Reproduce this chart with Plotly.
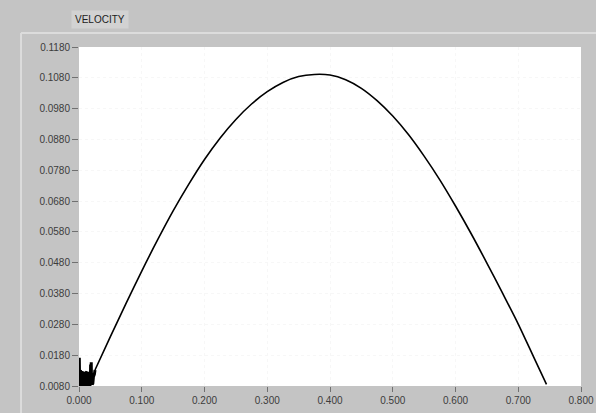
import plotly.graph_objects as go

# ---- data ----
pos = [0.0255, 0.050, 0.075, 0.100, 0.125, 0.150, 0.175, 0.200, 0.225, 0.250,
       0.275, 0.300, 0.325, 0.350, 0.375, 0.400, 0.425, 0.450, 0.475, 0.500,
       0.525, 0.550, 0.575, 0.600, 0.625, 0.650, 0.675, 0.700, 0.725, 0.745]
vel = [0.0132, 0.0240, 0.0348, 0.0453, 0.0553, 0.0648, 0.0735, 0.0815, 0.0885, 0.0945,
       0.0995, 0.1035, 0.1065, 0.1084, 0.1091, 0.1089, 0.1074, 0.1046, 0.1006, 0.0956,
       0.0896, 0.0826, 0.0749, 0.0664, 0.0574, 0.0479, 0.0381, 0.0281, 0.0172, 0.0085]

# noisy start-up region (dense jitter near the origin)
noise_pos = [0.0000, 0.0005, 0.0010, 0.0015, 0.0020, 0.0025, 0.0030, 0.0035,
             0.0040, 0.0045, 0.0050, 0.0055, 0.0060, 0.0065, 0.0070, 0.0075,
             0.0080, 0.0085, 0.0090, 0.0095, 0.0100, 0.0105, 0.0110, 0.0115,
             0.0120, 0.0125, 0.0130, 0.0135, 0.0140, 0.0145, 0.0150, 0.0155,
             0.0160, 0.0165, 0.0170, 0.0175, 0.0180, 0.0185, 0.0190, 0.0195,
             0.0200, 0.0205, 0.0210, 0.0215, 0.0220, 0.0230, 0.0245, 0.0255]
noise_vel = [0.0080, 0.0172, 0.0082, 0.0124, 0.0081, 0.0125, 0.0080, 0.0126,
             0.0081, 0.0125, 0.0080, 0.0124, 0.0082, 0.0126, 0.0080, 0.0125,
             0.0081, 0.0124, 0.0080, 0.0126, 0.0082, 0.0125, 0.0080, 0.0124,
             0.0081, 0.0126, 0.0080, 0.0125, 0.0082, 0.0124, 0.0080, 0.0126,
             0.0081, 0.0125, 0.0080, 0.0124, 0.0082, 0.0150, 0.0083, 0.0157,
             0.0084, 0.0122, 0.0085, 0.0118, 0.0088, 0.0110, 0.0118, 0.0132]

x_ticks = [0.0, 0.1, 0.2, 0.3, 0.4, 0.5, 0.6, 0.7, 0.8]
x_labels = ["0.000", "0.100", "0.200", "0.300", "0.400", "0.500", "0.600", "0.700", "0.800"]
y_ticks = [0.008, 0.018, 0.028, 0.038, 0.048, 0.058, 0.068, 0.078, 0.088, 0.098, 0.108, 0.118]
y_labels = ["0.0080", "0.0180", "0.0280", "0.0380", "0.0480", "0.0580",
            "0.0680", "0.0780", "0.0880", "0.0980", "0.1080", "0.1180"]

title_text = "VELOCITY"

GRAY = "#c4c4c4"
TXT = "#3c3c3c"
FONT = "Liberation Sans Narrow, Liberation Sans, Arial, sans-serif"

fig = go.Figure()
fig.add_trace(go.Scatter(x=noise_pos, y=noise_vel, mode="lines",
                         line=dict(color="black", width=3), hoverinfo="skip",
                         showlegend=False))
fig.add_trace(go.Scatter(x=pos, y=vel, mode="lines",
                         line=dict(color="black", width=1.6, shape="spline", smoothing=0.8),
                         showlegend=False))

fig.update_layout(
    width=596, height=413, autosize=False,
    margin=dict(l=79, r=15, t=47, b=27, autoexpand=False),
    paper_bgcolor=GRAY, plot_bgcolor="white",
    font=dict(family=FONT, size=10, color=TXT),
    xaxis=dict(range=[0, 0.8], tickvals=x_ticks, ticktext=x_labels, automargin=False,
               ticks="outside", ticklen=5, tickcolor="#707070", tickwidth=1,
               showgrid=True, gridcolor="#f7f7f7", griddash="dot", zeroline=False,
               showline=False, tickfont=dict(size=10, color=TXT, family=FONT)),
    yaxis=dict(range=[0.008, 0.118], tickvals=y_ticks, ticktext=y_labels, automargin=False,
               ticks="outside", ticklen=6, tickcolor="#707070", tickwidth=1,
               showgrid=True, gridcolor="#f7f7f7", griddash="dot", zeroline=False,
               showline=False, tickfont=dict(size=10, color=TXT, family=FONT)),
    shapes=[
        dict(type="line", xref="paper", yref="paper", x0=-0.1155, x1=1.1, y0=1.0413, y1=1.0413,
             line=dict(color="#dcdcdc", width=2)),
        dict(type="line", xref="paper", yref="paper", x0=-0.1155, x1=-0.1155, y0=1.0413, y1=-0.1,
             line=dict(color="#dcdcdc", width=2)),
    ],
    annotations=[
        dict(text=title_text, xref="paper", yref="paper", x=0.0418, y=1.082,
             xanchor="center", yanchor="middle", showarrow=False,
             bgcolor="#d2d2d2", borderpad=3,
             font=dict(size=10, color="#202020", family=FONT)),
    ],
)

fig.write_html("out.html")
